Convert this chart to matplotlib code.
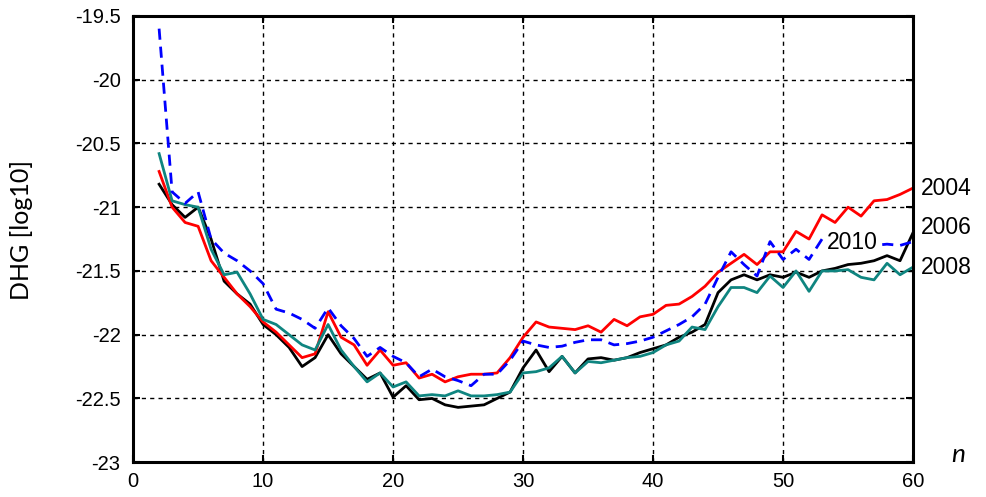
import numpy as np
import matplotlib
matplotlib.use('Agg')
import matplotlib.pyplot as plt

# degree n
n = list(range(2, 61))

dhg_2004 = [-20.72, -21.00, -21.12, -21.15, -21.42, -21.55, -21.68, -21.78, -21.90, -21.98,
            -22.08, -22.18, -22.15, -21.82, -22.02, -22.08, -22.24, -22.12, -22.24, -22.22,
            -22.34, -22.31, -22.37, -22.33, -22.31, -22.31, -22.30, -22.18, -22.02, -21.90,
            -21.94, -21.95, -21.96, -21.93, -21.98, -21.88, -21.93, -21.86, -21.84, -21.77,
            -21.76, -21.70, -21.62, -21.51, -21.44, -21.37, -21.45, -21.35, -21.35, -21.19,
            -21.25, -21.06, -21.12, -21.00, -21.07, -20.95, -20.94, -20.90, -20.85]

dhg_2006 = [-20.82, -20.98, -21.08, -21.00, -21.25, -21.58, -21.68, -21.76, -21.92, -22.00,
            -22.10, -22.25, -22.18, -22.00, -22.15, -22.25, -22.35, -22.30, -22.49, -22.40,
            -22.51, -22.50, -22.55, -22.57, -22.56, -22.55, -22.50, -22.45, -22.26, -22.12,
            -22.29, -22.17, -22.30, -22.19, -22.18, -22.20, -22.18, -22.14, -22.11, -22.08,
            -22.02, -21.98, -21.92, -21.67, -21.57, -21.53, -21.57, -21.53, -21.55, -21.51,
            -21.55, -21.50, -21.48, -21.45, -21.44, -21.42, -21.38, -21.42, -21.20]

dhg_2008 = [-20.58, -20.95, -20.98, -21.00, -21.33, -21.53, -21.51, -21.68, -21.88, -21.92,
            -22.00, -22.08, -22.12, -21.92, -22.12, -22.25, -22.37, -22.30, -22.41, -22.37,
            -22.48, -22.47, -22.48, -22.44, -22.48, -22.48, -22.47, -22.45, -22.30, -22.29,
            -22.26, -22.17, -22.30, -22.21, -22.22, -22.20, -22.18, -22.17, -22.14, -22.08,
            -22.05, -21.94, -21.96, -21.78, -21.63, -21.63, -21.67, -21.54, -21.63, -21.50,
            -21.66, -21.50, -21.50, -21.49, -21.55, -21.57, -21.44, -21.53, -21.47]

dhg_2010 = [-19.60, -20.88, -20.97, -20.88, -21.25, -21.36, -21.42, -21.50, -21.60, -21.80,
            -21.83, -21.88, -21.95, -21.79, -21.93, -22.03, -22.17, -22.10, -22.17, -22.22,
            -22.33, -22.27, -22.33, -22.36, -22.40, -22.31, -22.31, -22.20, -22.05, -22.08,
            -22.10, -22.09, -22.06, -22.04, -22.04, -22.08, -22.07, -22.05, -22.02, -21.97,
            -21.92, -21.86, -21.76, -21.55, -21.35, -21.45, -21.54, -21.27, -21.41, -21.33,
            -21.41, -21.25, -21.28, -21.30, -21.30, -21.30, -21.29, -21.30, -21.27]

xticks = [0, 10, 20, 30, 40, 50, 60]
yticks = [-23, -22.5, -22, -21.5, -21, -20.5, -20, -19.5]
ytick_labels = ['-23', '-22.5', '-22', '-21.5', '-21', '-20.5', '-20', '-19.5']

teal = '#0f8580'

fig = plt.figure(figsize=(9.86, 4.97), dpi=100)
ax = fig.add_axes([0.135, 0.07, 0.791, 0.898])

ax.plot(n, dhg_2006, color='black', lw=2.0)
ax.plot(n, dhg_2004, color='red', lw=2.0)
ax.plot(n, dhg_2008, color=teal, lw=2.0)
ax.plot(n, dhg_2010, color='blue', lw=2.0, linestyle=(0, (4, 2.5)))

ax.set_xlim(0, 60)
ax.set_ylim(-23, -19.5)
ax.set_xticks(xticks)
ax.set_yticks(yticks)
ax.set_yticklabels(ytick_labels)

ax.grid(True, color='black', linestyle=(0, (3, 3)), lw=1.0)
for s in ax.spines.values():
    s.set_linewidth(2.2)
ax.tick_params(direction='in', length=5, width=1.5, top=True, right=True,
               labelsize=14.5, colors='black')
ax.tick_params(axis='y', pad=9)
ax.tick_params(axis='x', pad=7)
for lab in ax.get_xticklabels() + ax.get_yticklabels():
    lab.set_fontfamily('Liberation Sans')

# year labels
ax.text(60.6, -20.85, '2004', fontsize=16.5, family='Liberation Sans', va='center', clip_on=False)
ax.text(60.6, -21.16, '2006', fontsize=16.5, family='Liberation Sans', va='center', clip_on=False)
ax.text(60.6, -21.47, '2008', fontsize=16.5, family='Liberation Sans', va='center', clip_on=False)
ax.text(53.4, -21.28, '2010', fontsize=16.5, family='Liberation Sans', va='center',
        bbox=dict(facecolor='white', edgecolor='none', pad=1))

fig.text(0.022, 0.537, 'DHG [log10]', rotation=90, fontsize=18, family='Lato',
         ha='center', va='center')
fig.text(0.972, 0.085, 'n', fontsize=19, family='Lato', style='italic',
         ha='center', va='center')

fig.savefig('out.png', dpi=100)
